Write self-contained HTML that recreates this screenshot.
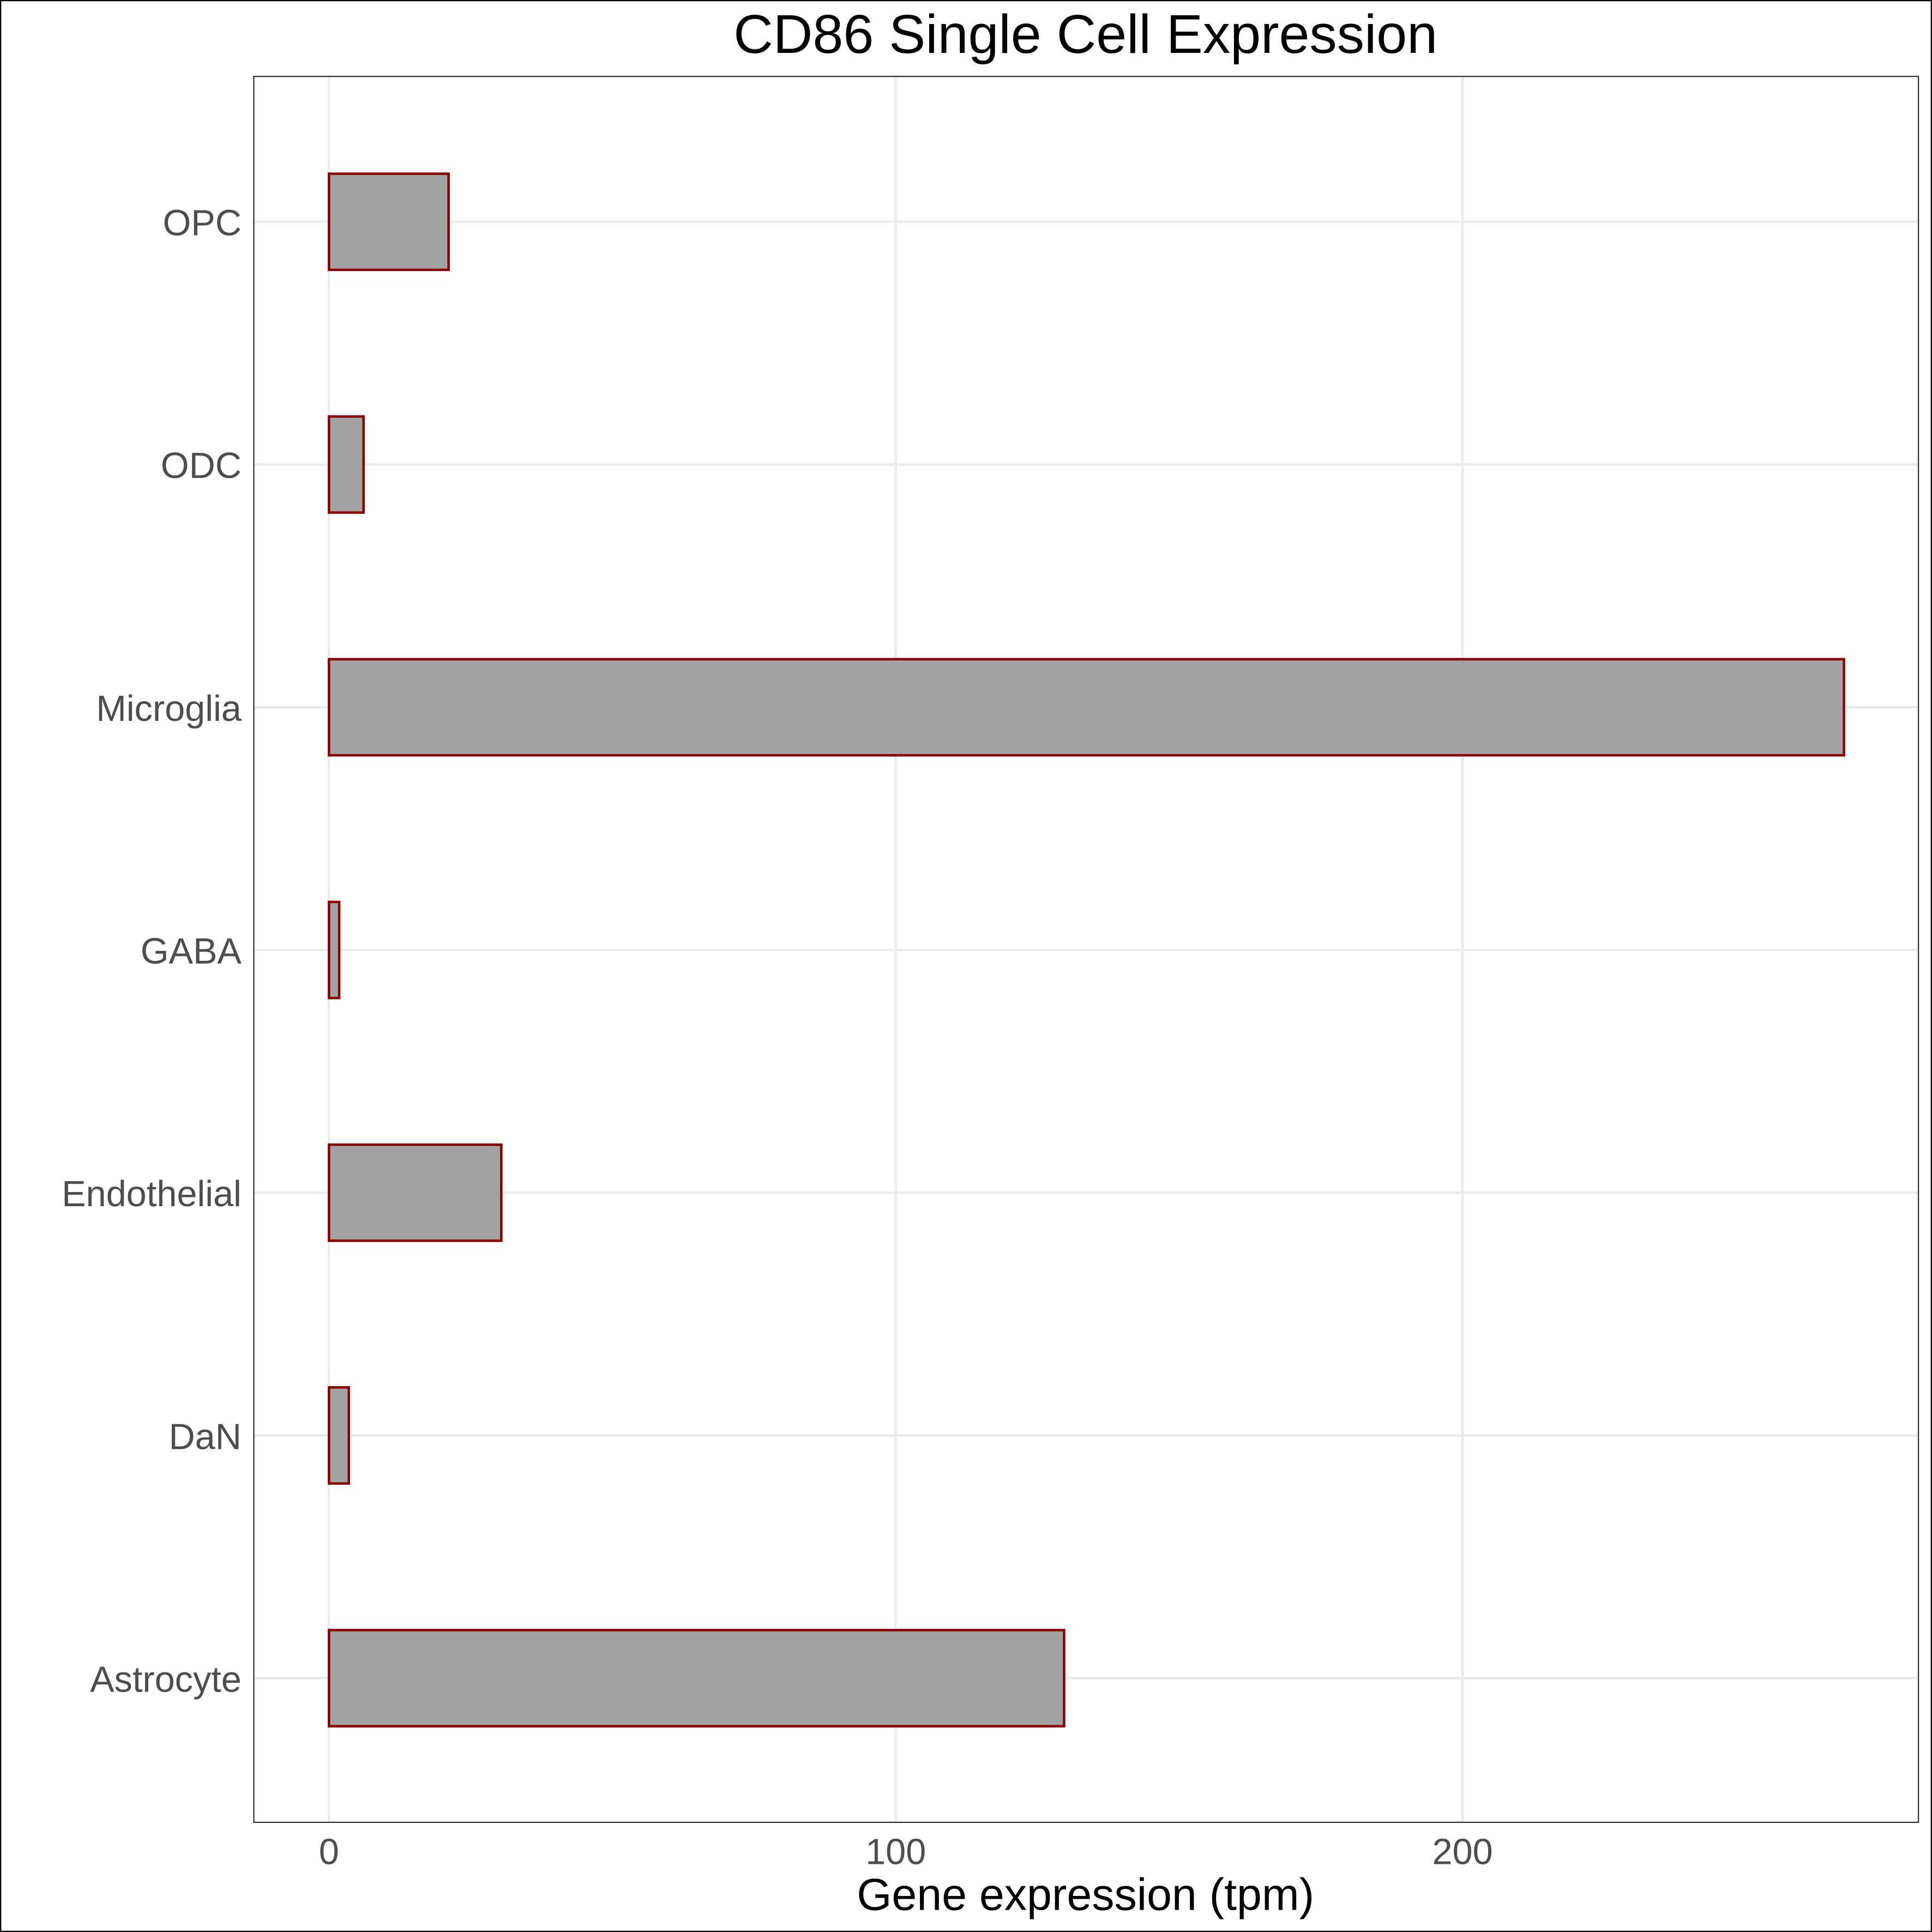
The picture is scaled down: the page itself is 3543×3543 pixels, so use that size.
<!DOCTYPE html>
<html><head><meta charset="utf-8"><style>
html,body{margin:0;padding:0;background:#fff}
svg{display:block}
text{font-family:"Liberation Sans",Arial,sans-serif}
</style></head><body>
<svg id="chart" width="3543" height="3543" viewBox="0 0 1568 1568" xmlns="http://www.w3.org/2000/svg">
<rect x="0.5" y="0.5" width="1567" height="1567" fill="#fff" stroke="#000" stroke-width="1"/>
<text x="881" y="43" font-size="44.5" text-anchor="middle" fill="#000">CD86 Single Cell Expression</text>
<g id="grid"></g>
<g id="bars"></g>
<rect x="206" y="62" width="1351" height="1417" fill="none" stroke="#333" stroke-width="1"/>
<g id="ylabels"></g>
<g id="xlabels"></g>
<text x="881" y="1550" font-size="36.5" text-anchor="middle" fill="#000">Gene expression (tpm)</text>
</svg>
<script>
const categories = ["Astrocyte","DaN","Endothelial","GABA","Microglia","ODC","OPC"];
const values = [129.7, 3.5, 30.4, 1.8, 267.3, 6.1, 21.1];
const xTicks = [0, 100, 200];
const xTickLabels = ["0","100","200"];

const NS = "http://www.w3.org/2000/svg";
const panel = {left:206, right:1557, top:62, bottom:1479};
function xScale(v){ return 267 + v * 4.6; }
function yScale(i){ return 1362 - i * 197; }
const barHalf = 39;

const grid = document.getElementById('grid');
const bars = document.getElementById('bars');
const yl = document.getElementById('ylabels');
const xl = document.getElementById('xlabels');

xTicks.forEach((t, i) => {
  const l = document.createElementNS(NS, 'line');
  
  
  l.setAttribute('x1', xScale(t)); l.setAttribute('x2', xScale(t));
  l.setAttribute('y1', panel.top); l.setAttribute('y2', panel.bottom);
  l.setAttribute('stroke', '#ebebeb'); l.setAttribute('stroke-width', '2');
  grid.appendChild(l);
  const tx = document.createElementNS(NS, 'text');
  
  
  tx.setAttribute('x', xScale(t)); tx.setAttribute('y', 1513);
  tx.setAttribute('font-size', '29.5'); tx.setAttribute('fill', '#4d4d4d');
  tx.setAttribute('text-anchor', 'middle');
  tx.textContent = xTickLabels[i];
  xl.appendChild(tx);
});

categories.forEach((c, i) => {
  const y = yScale(i);
  const l = document.createElementNS(NS, 'line');
  
  
  l.setAttribute('x1', panel.left); l.setAttribute('x2', panel.right);
  l.setAttribute('y1', y); l.setAttribute('y2', y);
  l.setAttribute('stroke', '#ebebeb'); l.setAttribute('stroke-width', '2');
  grid.appendChild(l);

  const r = document.createElementNS(NS, 'rect');
  
  
  r.setAttribute('x', xScale(0)); r.setAttribute('y', y - barHalf);
  r.setAttribute('width', xScale(values[i]) - xScale(0));
  r.setAttribute('height', barHalf * 2);
  r.setAttribute('fill', '#a3a3a3'); r.setAttribute('stroke', '#8b0000');
  r.setAttribute('stroke-width', '2');
  bars.appendChild(r);

  const tx = document.createElementNS(NS, 'text');
  
  
  tx.setAttribute('x', 196); tx.setAttribute('y', y + 11);
  tx.setAttribute('font-size', '29.5'); tx.setAttribute('fill', '#4d4d4d');
  tx.setAttribute('text-anchor', 'end');
  tx.textContent = c;
  yl.appendChild(tx);
});
</script>
</body></html>
